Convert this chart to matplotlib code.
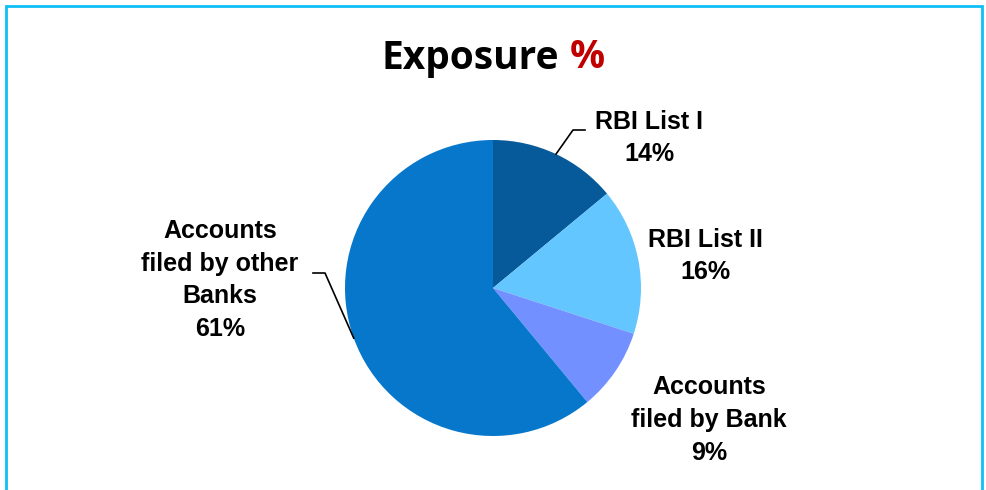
import numpy as np
import matplotlib
matplotlib.use("Agg")
import matplotlib.pyplot as plt
from matplotlib.patches import Rectangle

labels = ["RBI List I", "RBI List II", "Accounts\nfiled by Bank", "Accounts\nfiled by other\nBanks"]
values = [14, 16, 9, 61]
colors = ["#065A9A", "#63C6FF", "#7290FF", "#0677CB"]

W, H = 987, 490
fig = plt.figure(figsize=(W / 100, H / 100), dpi=100)
ax = fig.add_axes([0, 0, 1, 1])

cx, cy, R = 493, 288, 148  # pixel centre and radius

wedges, _ = ax.pie(values, colors=colors, startangle=90, counterclock=False,
                   radius=1, wedgeprops=dict(linewidth=0))
ax.set_xlim(-cx / R, (W - cx) / R)
ax.set_ylim(-(H - cy) / R, cy / R)
ax.set_aspect("auto")
ax.axis("off")

def px(x, y):
    return ((x - cx) / R, (cy - y) / R)

font = dict(family=["Liberation Sans", "DejaVu Sans"], fontweight="bold",
            fontsize=18, color="black", ha="center", va="center", linespacing=1.46)

texts = [f"{l}\n{v}%" for l, v in zip(labels, values)]
pos = [px(649, 138), px(705, 256), px(709, 420), px(220, 280)]
for t, p in zip(texts, pos):
    ax.text(p[0], p[1], t, **font)

# leader lines for slices 0 and 3
def mid_angle(w):
    return np.deg2rad((w.theta1 + w.theta2) / 2)

a0 = mid_angle(wedges[0])
e0 = px(573, 130); h0 = px(585, 130)
ax.plot([np.cos(a0), e0[0], h0[0]], [np.sin(a0), e0[1], h0[1]], color="black", lw=1.2)
a3 = mid_angle(wedges[3])
e3 = px(325, 273); h3 = px(313, 273)
ax.plot([np.cos(a3), e3[0], h3[0]], [np.sin(a3), e3[1], h3[1]], color="black", lw=1.2)

# title
tt = fig.text(382 / W, 1 - 58 / H, "Exposure", family=["Open Sans", "DejaVu Sans"],
              fontweight="bold", fontsize=28, color="black", ha="left", va="center")
fig.canvas.draw()
ax.annotate("%", xy=(1, 0.5), xycoords=tt, xytext=(10, 0), textcoords="offset pixels",
            family=["Open Sans", "DejaVu Sans"], fontweight="bold", fontsize=28,
            color="#C00000", ha="left", va="center")

# border
fig.patches.append(Rectangle((6 / W, -0.05), (982 - 6) / W, 1.05 - 6 / H,
                             transform=fig.transFigure, fill=False,
                             edgecolor="#0DBFF5", linewidth=2.0))

fig.savefig("out.png", dpi=100)
